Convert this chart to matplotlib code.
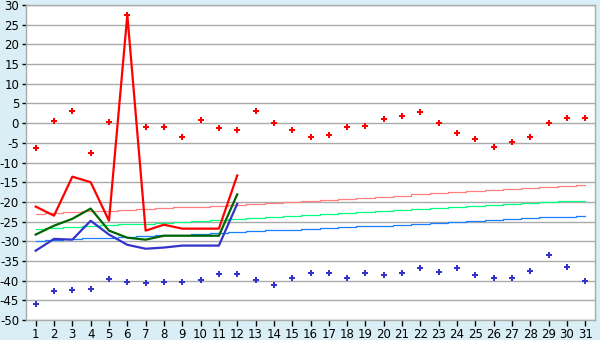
import matplotlib
matplotlib.use("Agg")
import matplotlib.pyplot as plt

days = list(range(1, 32))
obs_days = list(range(1, 13))

rec_max = [-6.2, 0.5, 3.0, -7.7, 0.2, 27.5, -1.1, -1.1, -3.4, 0.8, -1.3, -1.8,
           3.2, 0.0, -1.8, -3.6, -3.1, -1.1, -0.8, 1.0, 1.7, 2.7, 0.0, -2.6,
           -4.1, -6.1, -4.9, -3.6, 0.0, 1.2, 1.2]
rec_min = [-46.0, -42.7, -42.5, -42.2, -39.7, -40.4, -40.7, -40.4, -40.4, -39.9,
           -38.4, -38.4, -39.9, -41.2, -39.4, -38.1, -38.1, -39.4, -38.1, -38.65,
           -38.1, -36.9, -37.9, -36.9, -38.65, -39.4, -39.4, -37.6, -33.6, -36.6, -40.2]

tmax = [-21.2, -23.5, -13.6, -15.0, -24.8, 27.5, -27.3, -25.8, -26.8, -26.8, -26.8, -13.3]
tmean = [-28.3, -26.05, -24.3, -21.7, -27.3, -29.1, -29.6, -28.6, -28.6, -28.6, -28.6, -18.1]
tmin = [-32.4, -29.4, -29.6, -24.8, -28.3, -30.9, -31.9, -31.6, -31.1, -31.1, -31.1, -20.5]

norm_max = [-23.0, -22.8, -22.6, -22.4, -22.2, -22.0, -21.8, -21.6, -21.4, -21.2,
            -20.95, -20.7, -20.45, -20.2, -19.95, -19.7, -19.45, -19.2, -18.95, -18.7,
            -18.4, -18.1, -17.8, -17.55, -17.3, -17.0, -16.75, -16.45, -16.2, -15.9, -15.6]
norm_mean = [-26.8, -26.6, -26.35, -26.15, -25.9, -25.7, -25.5, -25.25, -25.05, -24.8,
             -24.55, -24.3, -24.05, -23.8, -23.5, -23.25, -23.0, -22.75, -22.5, -22.25,
             -22.0, -21.75, -21.5, -21.3, -21.05, -20.8, -20.6, -20.35, -20.15, -19.9, -19.7]
norm_min = [-29.9, -29.7, -29.5, -29.3, -29.1, -28.9, -28.7, -28.5, -28.3, -28.1,
            -27.9, -27.7, -27.45, -27.25, -27.05, -26.8, -26.6, -26.4, -26.2, -26.0,
            -25.8, -25.55, -25.3, -25.1, -24.85, -24.65, -24.4, -24.2, -23.95, -23.75, -23.5]

yticks = list(range(-50, 31, 5))

plt.rcParams['axes.unicode_minus'] = False
fig = plt.figure(figsize=(6, 3.4), dpi=100, facecolor='#daeff5')
ax = fig.add_axes([26/600, 1-320/340, (595-26)/600, (320-5)/340])
ax.set_facecolor('white')

ax.plot(days, norm_max, color='#ff8080', lw=0.9, drawstyle='steps-mid', zorder=2)
ax.plot(days, norm_mean, color='#00ff80', lw=0.9, drawstyle='steps-mid', zorder=2)
ax.plot(days, norm_min, color='#1a7fff', lw=0.9, drawstyle='steps-mid', zorder=2)

ax.plot(obs_days, tmin, color='#3333cc', lw=1.6, zorder=3)
ax.plot(obs_days, tmean, color='#006600', lw=1.6, zorder=3)
ax.plot(obs_days, tmax, color='#ff0000', lw=1.6, zorder=4)

ax.plot(days, rec_max, ls='none', marker='P', ms=4.8, color='#ff0000', mew=0, zorder=5)
ax.plot(days, rec_min, ls='none', marker='P', ms=4.8, color='#3333cc', mew=0, zorder=5)

ax.set_xlim(0.47, 31.53)
ax.set_ylim(-50, 30)
ax.set_xticks(days)
ax.set_yticks(yticks)
ax.yaxis.grid(True, color='#aaaaaa', lw=1.0, zorder=0)
ax.set_axisbelow(True)
for s in ax.spines.values():
    s.set_color('#aaaaaa')
    s.set_linewidth(1.0)
ax.tick_params(axis='both', colors='black', labelsize=8.5, length=4, width=1, pad=2)
ax.tick_params(axis='y', length=3)

fig.savefig('out.png', dpi=100, facecolor=fig.get_facecolor())
